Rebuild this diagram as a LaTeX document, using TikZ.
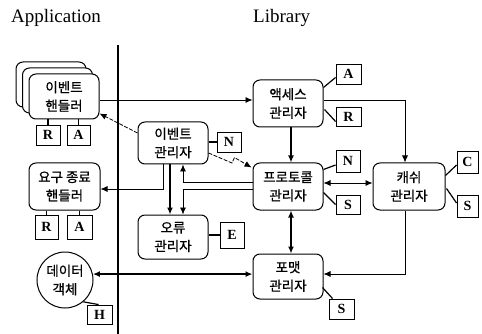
\documentclass[tikz,border=0pt]{standalone}
\usepackage{fontspec}
\setmainfont{Liberation Serif}
\newfontfamily\kr[FakeBold=0.8]{Noto Sans CJK KR}
\usetikzlibrary{arrows.meta,calc}
\begin{document}
\begin{tikzpicture}[x=1pt,y=-1pt,
  mgr/.style={draw, line width=1pt, rounded corners=7pt, minimum width=70pt, minimum height=46pt,
    align=center, inner sep=0pt, fill=white, font=\kr\fontsize{13.5}{18.5}\selectfont},
  tag/.style={draw, line width=0.9pt, minimum width=24pt, minimum height=20pt, inner sep=0pt,
    font=\bfseries\fontsize{14}{14}\selectfont},
  ln/.style={line width=0.8pt},
  lnb/.style={line width=1.7pt},
  lnt/.style={line width=1.2pt},
  arr/.style={-{Latex[length=7pt,width=6pt]}},
  darr/.style={{Latex[length=7pt,width=6pt]}-{Latex[length=7pt,width=6pt]}},
  title/.style={font=\fontsize{19}{19}\selectfont, inner sep=0pt}
]
\useasboundingbox (0,0) rectangle (482,334);

% titles
\node[title, anchor=west] (tapp) at (11,18) {Application};
\node[title, anchor=west] (tlib) at (253,18) {Library};

% separator
\draw[line width=1.8pt] (118,45) -- (118,334);

% helper coordinates
\coordinate (y100) at (0,100);
\coordinate (y182) at (0,182);
\coordinate (y183) at (0,183);
\coordinate (y189) at (0,189);
\coordinate (y274) at (0,274);
\coordinate (x163) at (163,0);
\coordinate (x170) at (170,0);
\coordinate (x183) at (183,0);
\coordinate (x291) at (291,0);
\coordinate (x405) at (405,0);

% event handler stack
\node[mgr, minimum height=45pt] (ehb3) at (51,84.5) {};
\node[mgr, minimum height=45pt] (ehb2) at (57.5,90.5) {};
\node[mgr, minimum height=45pt] (eh) at (64,96.5) {이벤트\\핸들러};
\node[tag] (ehR) at (48,135) {R};
\node[tag, minimum width=23pt] (ehA) at (78.5,135) {A};

% request handler
\node[mgr, minimum width=71pt, minimum height=47pt] (rh) at (64.5,186.5) {요구 종료\\핸들러};
\node[tag, minimum width=23pt, minimum height=24pt] (rhR) at (46.5,227) {R};
\node[tag, minimum width=25pt, minimum height=24pt] (rhA) at (79.5,227) {A};

% data object
\node[draw, line width=1pt, circle, minimum size=56pt, inner sep=0pt, align=center,
  font=\kr\fontsize{13.5}{18.5}\selectfont] (data) at (65,280) {데이터\\객체};
\node[tag, minimum width=25pt, minimum height=19pt] (dataH) at (99.5,314.5) {H};

% event manager
\node[mgr, minimum height=42pt] (em) at (173,143) {이벤트\\관리자};
\node[tag] (emN) at (229,142) {N};

% error manager
\node[mgr, minimum height=44pt] (err) at (173,237) {오류\\관리자};
\node[tag, minimum height=26pt] (errE) at (232,235) {E};

% access manager
\node[mgr, minimum height=47pt] (acc) at (288,103.5) {액세스\\관리자};
\node[tag, minimum width=25pt] (accA) at (348.5,74) {A};
\node[tag, minimum width=25pt, minimum height=19pt] (accR) at (348.5,116.5) {R};

% protocol manager
\node[mgr, minimum height=47pt] (prot) at (288,186.5) {프로토콜\\관리자};
\node[tag, minimum height=22pt] (protN) at (348,161) {N};
\node[tag, minimum height=19pt] (protS) at (348,204.5) {S};

% cache manager
\node[mgr, minimum width=72pt, minimum height=47pt] (cache) at (409,186.5) {캐쉬\\관리자};
\node[tag, minimum width=21pt, minimum height=22pt] (cacheC) at (467.5,162) {C};
\node[tag, minimum width=21pt, minimum height=22pt] (cacheS) at (467.5,206) {S};

% format manager
\node[mgr, minimum height=45pt] (fmt) at (288,276.5) {포맷\\관리자};
\node[tag, minimum width=25pt] (fmtS) at (341.5,309) {S};

% tag connectors
\draw[lnt] (eh.south -| ehR) -- (ehR.north);
\draw[lnt] (eh.south -| ehA) -- (ehA.north);
\draw[lnt] (rh.south -| rhR) -- (rhR.north);
\draw[lnt] (rh.south -| rhA) -- (rhA.north);
\draw[lnt] (data.-50) -- ($(dataH.north west)+(12,0)$);
\draw[lnt] (em.east |- emN) -- (emN.west);
\draw[lnt] (err.east |- errE) -- (errE.west);
\draw[lnt] ($(acc.north east)+(0,8)$) -- ($(accA.south west)+(0,-7)$);
\draw[lnt] ($(acc.east)+(1,6)$) -- ($(accR.west)+(0,5)$);
\draw[lnt] ($(prot.north east)+(0,7)$) -- ($(protN.west)+(0,4)$);
\draw[lnt] ($(prot.east)+(0,6)$) -- ($(protS.west)+(0,0)$);
\draw[lnt] ($(cache.north east)+(0,13)$) -- ($(cacheC.west)+(0,3)$);
\draw[lnt] ($(cache.east)+(1,2)$) -- ($(cacheS.west)+(0,-3)$);
\draw[lnt] ($(fmt.east)+(-1,11)$) -- ($(fmtS.north west)+(4,0)$);

% main connectors
\draw[ln, arr] (eh.east |- y100) -- (acc.west |- y100);
\draw[ln, arr] (acc.east |- y100) -| (cache.north -| x405);
\draw[lnb, arr] (acc.south -| x291) -- (prot.north -| x291);
\draw[lnb, darr] (prot.south -| x291) -- (fmt.north -| x291);
\draw[ln, darr] (prot.east |- y183) -- (cache.west |- y183);
\draw[ln, arr] (cache.south -| x405) |- (fmt.east |- y274);
\draw[lnb, darr] (data.12) -- (data.12 -| fmt.west);
\draw[lnb, arr] (em.south -| x170) -- (err.north -| x170);
\draw[ln, arr] (em.south -| x163) |- (rh.east |- y189);
\draw[ln, arr] (prot.west |- y182) -| (em.south -| x183);
\draw[ln, arr] (prot.west |- y189) -| (err.north -| x183);
\draw[ln, arr, dash pattern=on 4pt off 1.5pt] ($(em.west)+(0,-10)$) -- ($(eh.south east)+(0,-6)$);
\coordinate (z1) at (232,163);
\coordinate (z2) at (234.5,157.5);
\draw[ln, arr, dash pattern=on 4pt off 1.5pt] ($(em.east)+(0,10)$) -- (z1) -- (z2) -- ($(prot.north west)+(-1,5)$);
\end{tikzpicture}
\end{document}
